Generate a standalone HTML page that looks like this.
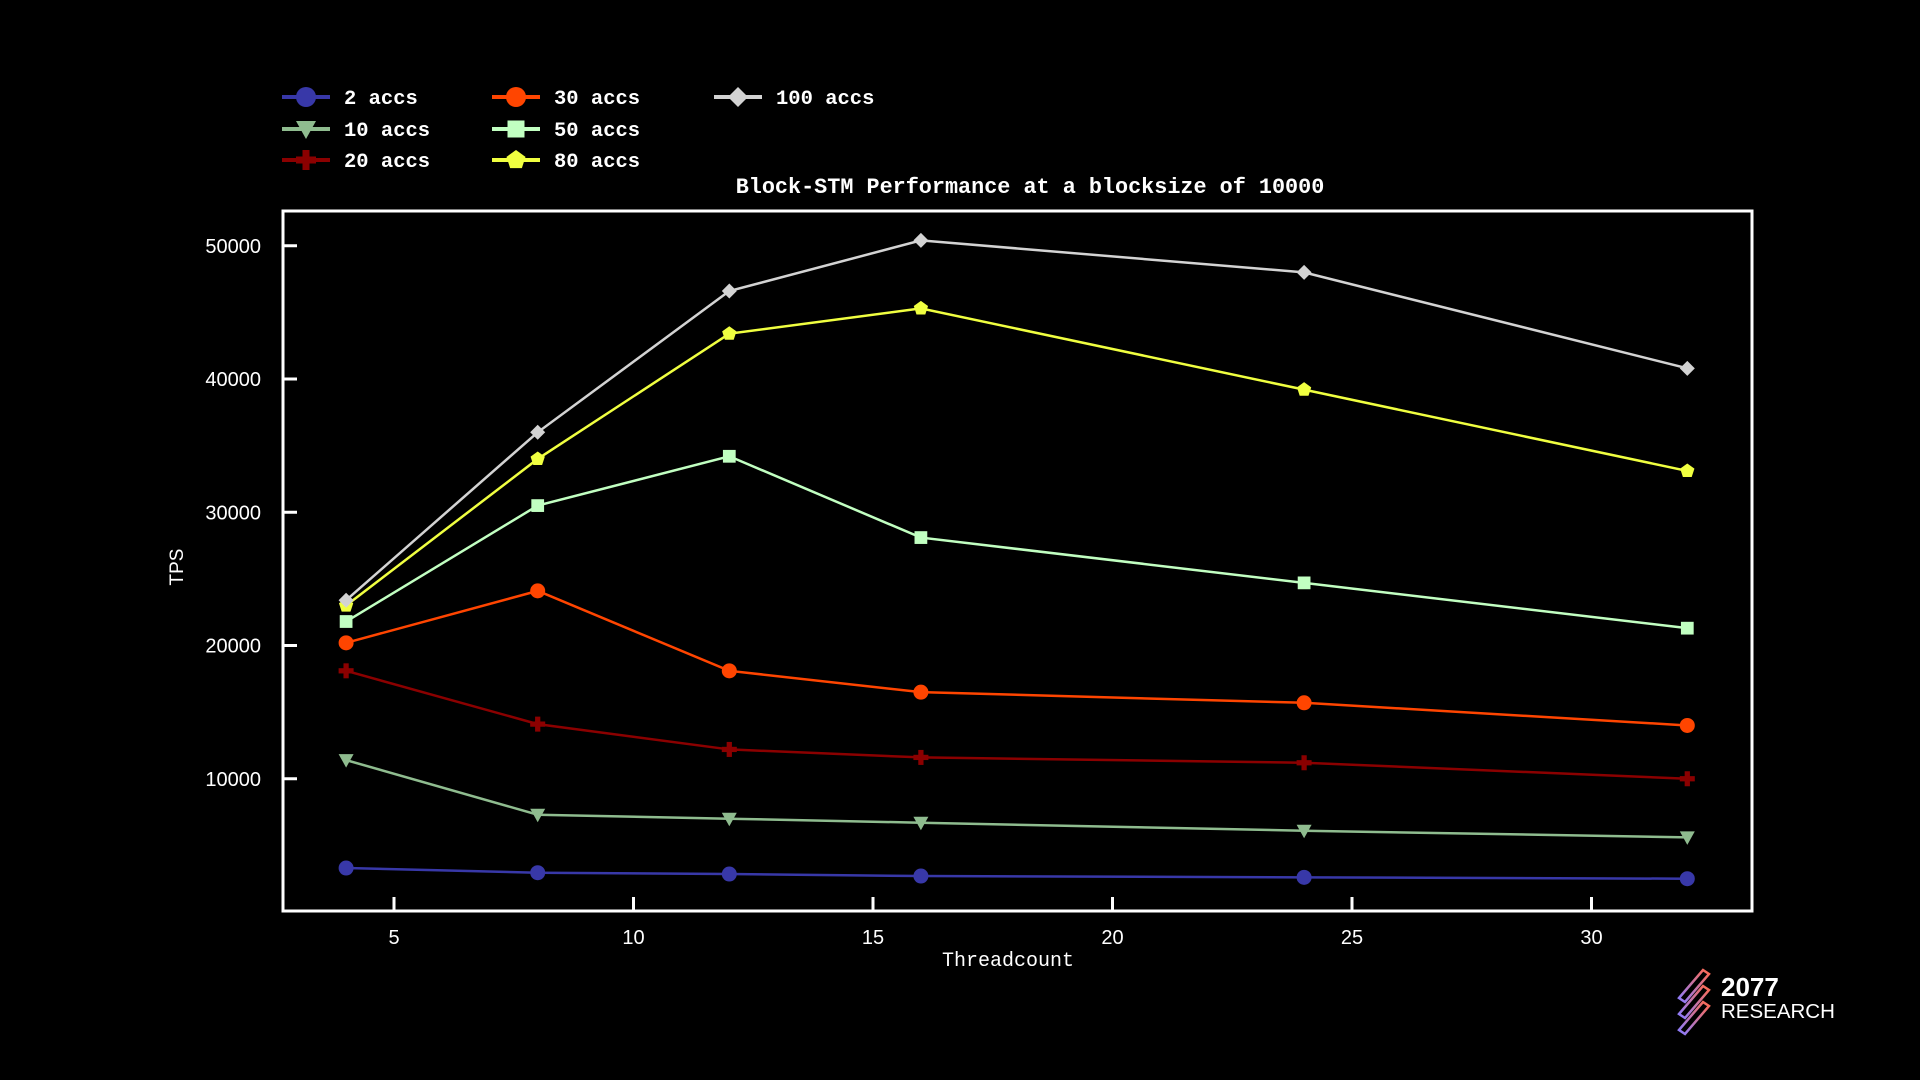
<!DOCTYPE html>
<html><head><meta charset="utf-8"><style>
html,body{margin:0;padding:0;background:#000;width:1920px;height:1080px;overflow:hidden}
</style></head><body>
<svg id="s" width="1920" height="1080" xmlns="http://www.w3.org/2000/svg" style="position:absolute;left:0;top:0">
<rect width="1920" height="1080" fill="#000"/>
</svg>
<script>
const S=document.getElementById('s');
const NS='http://www.w3.org/2000/svg';
function el(t,a,txt){const e=document.createElementNS(NS,t);for(const k in a)e.setAttribute(k,a[k]);if(txt!==undefined)e.textContent=txt;S.appendChild(e);return e;}
const X=v=>394+(v-5)*47.9;
const Y=v=>912-v/10000*133.25;
el('rect',{x:283,y:211,width:1469,height:700,fill:'none',stroke:'#fff','stroke-width':3});
const sans='"Liberation Sans", sans-serif', mono='"Liberation Mono", monospace';
[10000,20000,30000,40000,50000].forEach(v=>{
 el('line',{x1:283,x2:297,y1:Y(v),y2:Y(v),stroke:'#fff','stroke-width':3});
 el('text',{x:261,y:Y(v)+7,'text-anchor':'end',fill:'#fff','font-family':sans,'font-size':20},v);
});
[5,10,15,20,25,30].forEach(v=>{
 el('line',{x1:X(v),x2:X(v),y1:911,y2:897,stroke:'#fff','stroke-width':3});
 el('text',{x:X(v),y:944,'text-anchor':'middle',fill:'#fff','font-family':sans,'font-size':20},v);
});
el('text',{x:1008,y:966,'text-anchor':'middle',fill:'#fff','font-family':mono,'font-size':20},'Threadcount');
el('text',{x:0,y:0,transform:'translate(183,567) rotate(-90)','text-anchor':'middle',fill:'#fff','font-family':sans,'font-size':19},'TPS');
el('text',{x:1030,y:193,'text-anchor':'middle',fill:'#fff','font-family':mono,'font-size':21.8,'font-weight':'bold'},'Block-STM Performance at a blocksize of 10000');
const xs=[4,8,12,16,24,32];
const series=[
 ['2 accs','#3838a8','circle',[3300,2950,2850,2700,2600,2500]],
 ['10 accs','#8fbc8f','tri',[11400,7300,7000,6700,6100,5600]],
 ['20 accs','#8b0000','plus',[18100,14100,12200,11600,11200,10000]],
 ['30 accs','#ff4500','circle',[20200,24100,18100,16500,15700,14000]],
 ['50 accs','#c1ffc1','square',[21800,30500,34200,28100,24700,21300]],
 ['80 accs','#f0ff40','pent',[23000,34000,43400,45300,39200,33100]],
 ['100 accs','#d3d3d3','diamond',[23400,36000,46600,50400,48000,40800]],
];
function marker(k,x,y,c,r){
 if(k=='circle')el('circle',{cx:x,cy:y,r:r,fill:c});
 else if(k=='tri')el('polygon',{points:`${x-r},${y-r*0.8} ${x+r},${y-r*0.8} ${x},${y+r}`,fill:c});
 else if(k=='plus'){el('rect',{x:x-r,y:y-r*0.35,width:2*r,height:r*0.7,fill:c});el('rect',{x:x-r*0.35,y:y-r,width:r*0.7,height:2*r,fill:c});}
 else if(k=='square')el('rect',{x:x-r*0.85,y:y-r*0.85,width:r*1.7,height:r*1.7,fill:c});
 else if(k=='pent'){let p=[];for(let i=0;i<5;i++){const a=-Math.PI/2+i*2*Math.PI/5;p.push((x+r*Math.cos(a))+','+(y+r*Math.sin(a)));}el('polygon',{points:p.join(' '),fill:c});}
 else if(k=='diamond')el('polygon',{points:`${x},${y-r} ${x+r},${y} ${x},${y+r} ${x-r},${y}`,fill:c});
}
series.forEach(([n,c,k,d])=>{
 el('polyline',{points:d.map((v,i)=>X(xs[i])+','+Y(v)).join(' '),fill:'none',stroke:c,'stroke-width':2.5});
 d.forEach((v,i)=>marker(k,X(xs[i]),Y(v),c,7.5));
});
const pos=[[282,97],[282,129],[282,160],[492,97],[492,129],[492,160],[714,97]];
series.forEach(([n,c,k],i)=>{
 const [lx,ly]=pos[i];
 el('line',{x1:lx,x2:lx+48,y1:ly,y2:ly,stroke:c,'stroke-width':4});
 marker(k,lx+24,ly,c,10);
 el('text',{x:lx+62,y:ly+7,fill:'#fff','font-family':mono,'font-size':20.5,'font-weight':'bold'},n);
});
const g=document.createElementNS(NS,'defs');g.innerHTML='<linearGradient id="lg" x1="0" y1="1" x2="1" y2="0"><stop offset="0" stop-color="#8a7cff"/><stop offset="1" stop-color="#ff6a50"/></linearGradient>';S.appendChild(g);
[0,16,32].forEach(o=>{el('path',{d:`M${1679},${998+o} l24,-28 l6,4 l-24,28 z`,fill:'none',stroke:'url(#lg)','stroke-width':2.5});});
el('text',{x:1721,y:996,fill:'#fff','font-family':sans,'font-size':26,'font-weight':'bold'},'2077');
el('text',{x:1721,y:1018,fill:'#fff','font-family':sans,'font-size':20.5},'RESEARCH');
</script>
</body></html>
